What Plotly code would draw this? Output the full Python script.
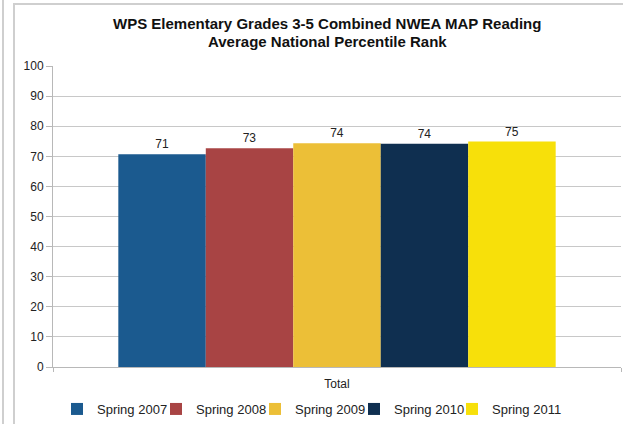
import plotly.graph_objects as go

categories = ["Total"]
series_names = ["Spring 2007", "Spring 2008", "Spring 2009", "Spring 2010", "Spring 2011"]
series_values = [70.7, 72.7, 74.3, 74.2, 74.9]
series_colors = ["#1b5a8f", "#a84444", "#ecbf37", "#0f2f50", "#f7e00a"]
y_ticks = [0, 10, 20, 30, 40, 50, 60, 70, 80, 90, 100]
title_lines = ["WPS Elementary Grades 3-5 Combined NWEA MAP Reading", "Average National Percentile Rank"]

W, H = 623, 424
L, R, T, B = 53, 2, 66, 57
pw = W - L - R
ph = H - T - B
FONT = "Liberation Sans, Arial, sans-serif"

def px_x(p):
    return (p - L) / pw

def px_y(p):
    return (H - B - p) / ph

legend_text_starts = [98, 197, 296, 395, 493]

fig = go.Figure()
legends = {}
for i, (name, val, col) in enumerate(zip(series_names, series_values, series_colors)):
    lname = "legend" if i == 0 else f"legend{i + 1}"
    fig.add_trace(go.Bar(
        x=categories, y=[val], name=name, marker=dict(color=col, line=dict(width=0)),
        text=[val], texttemplate="%{y:.0f}", textposition="outside",
        textfont=dict(family=FONT, size=12, color="#222222"),
        cliponaxis=False, legend=lname,
    ))
    legends[lname] = dict(
        orientation="h", x=(legend_text_starts[i] - 41) / W, xref="container", xanchor="left",
        y=px_y(409), yanchor="middle", font=dict(family=FONT, size=13, color="#222222"),
        itemwidth=30, bgcolor="rgba(0,0,0,0)",
    )

annotations = [
    dict(text=f"<b>{t}</b>", x=327 / W, xref="container" if False else "paper", y=px_y(yc),
         yref="paper", showarrow=False, xanchor="center", yanchor="middle",
         font=dict(family=FONT, size=15, color="#111111"))
    for t, yc in zip(title_lines, [24, 41])
]
for a in annotations:
    a["x"] = px_x(327)

fig.update_layout(
    width=W, height=H,
    margin=dict(l=L, r=R, t=T, b=B, autoexpand=False),
    paper_bgcolor="white", plot_bgcolor="white",
    barmode="group", bargap=0.23, bargroupgap=0,
    font=dict(family=FONT, size=11, color="#222222"),
    annotations=annotations,
    yaxis=dict(
        range=[0, 100], tickvals=y_ticks, showgrid=True, gridcolor="#c8c8c8", gridwidth=1,
        showline=True, linecolor="#b8b8b8", linewidth=1, ticks="outside", ticklen=6,
        tickcolor="#b8b8b8", zeroline=False, tickfont=dict(size=12, color="#222222"),
        fixedrange=True, automargin=False,
    ),
    xaxis=dict(
        showline=True, linecolor="#b8b8b8", linewidth=1, ticks="outside", ticklen=4,
        tickcolor="#b8b8b8", tickson="boundaries", tickfont=dict(size=12, color="#222222"),
        fixedrange=True, automargin=False, ticklabelstandoff=6,
    ),
    showlegend=True,
    shapes=[
        dict(type="line", xref="paper", yref="paper", x0=px_x(3), x1=px_x(3),
             y0=px_y(0), y1=px_y(H + 5), line=dict(color="#cfcfcf", width=2)),
        dict(type="rect", xref="paper", yref="paper", x0=px_x(14), x1=px_x(W + 20),
             y0=px_y(4), y1=px_y(H + 20), line=dict(color="#cfcfcf", width=2),
             fillcolor="rgba(0,0,0,0)", layer="below"),
    ],
    **legends,
)

fig.write_html("out.html", config={"displayModeBar": False},
               post_script="document.body.style.margin='0px';")
